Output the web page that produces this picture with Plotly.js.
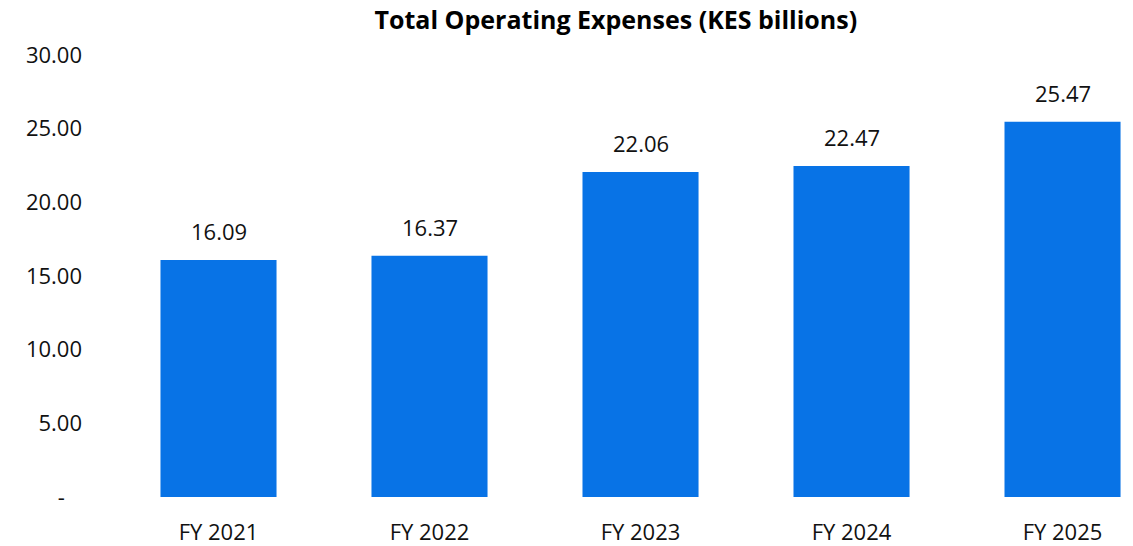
<!DOCTYPE html>
<html>
<head>
<meta charset="utf-8">
<script src="https://cdn.plot.ly/plotly-3.0.1.min.js"></script>
<style>
  body { margin: 0; background: #fff; }
  #chart { width: 1133px; height: 546px; }
</style>
</head>
<body>
<div id="chart"></div>
<script>
// Data
var years = ["FY 2021", "FY 2022", "FY 2023", "FY 2024", "FY 2025"];
var opex = [16.09, 16.37, 22.06, 22.47, 25.47];
var yTicks = [0, 5, 10, 15, 20, 25, 30];
var yTickText = ["-\u00a0\u00a0\u00a0", "5.00", "10.00", "15.00", "20.00", "25.00", "30.00"];

var FONT = "'Open Sans', sans-serif";

var trace = {
    x: years,
    y: opex,
    type: "bar",
    marker: {color: "#0873E6"},
    hoverinfo: "x+y"
};

// value labels above the bars
var labels = years.map((yr, i) => ({
    x: yr,
    y: opex[i],
    text: opex[i].toFixed(2),
    showarrow: false,
    yanchor: "bottom",
    yshift: 12,
    font: {family: FONT, size: 22, color: "#111"}
}));

var layout = {
    title: {
        text: "<b>Total Operating Expenses (KES billions)</b>",
        font: {family: FONT, size: 25, color: "#000"},
        x: 0.493, xref: "paper", y: 0.962, yref: "container", yanchor: "middle"
    },
    font: {family: FONT, size: 22, color: "#111"},
    margin: {l: 113, r: 0, t: 55, b: 49},
    bargap: 0.45,
    showlegend: false,
    paper_bgcolor: "#fff",
    plot_bgcolor: "#fff",
    annotations: labels,
    xaxis: {
        range: [-0.5, 4.334],
        showgrid: false,
        zeroline: false,
        showline: false,
        ticks: "",
        ticklabelstandoff: 20,
        tickfont: {size: 22}
    },
    yaxis: {
        range: [0, 30],
        tickvals: yTicks,
        ticktext: yTickText,
        showgrid: false,
        zeroline: false,
        showline: false,
        ticks: "",
        ticklabelstandoff: 30,
        tickfont: {size: 22}
    }
};

Plotly.newPlot("chart", [trace], layout, {displayModeBar: false, responsive: false});
</script>
</body>
</html>
